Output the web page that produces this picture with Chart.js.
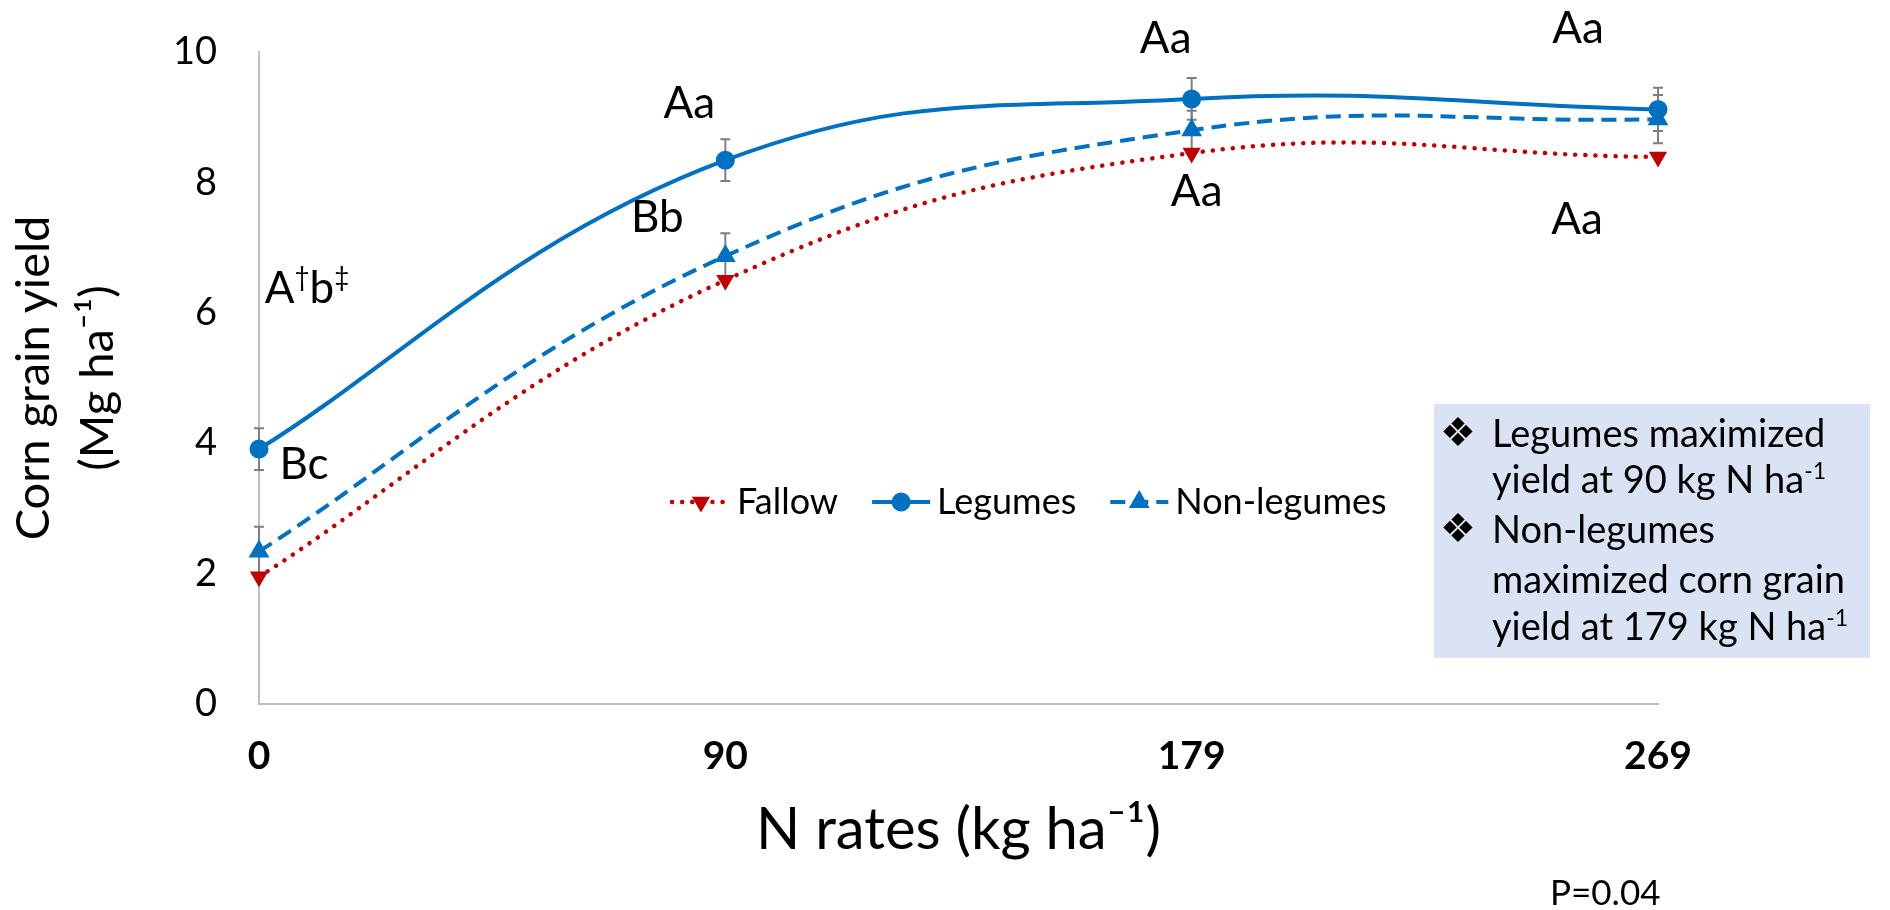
<!DOCTYPE html>
<html>
<head>
<meta charset="utf-8">
<script src="https://cdn.jsdelivr.net/npm/chart.js@4.4.1/dist/chart.umd.min.js"></script>
<style>
  html, body { margin: 0; padding: 0; background: #fff; }
  canvas { display: block; }
</style>
</head>
<body>
<canvas id="chart" width="1890" height="910"></canvas>
<script>
// N rates on the x axis
const nRates = ['0', '90', '179', '269'];

// corn grain yield (Mg/ha)
const fallow = [1.95, 6.50, 8.45, 8.39];
const legumes = [3.91, 8.34, 9.28, 9.12];
const nonLegumes = [2.34, 6.87, 8.80, 8.97];

// error bars (+/-)
const legumesErr = [0.32, 0.32, 0.32, 0.33];
const nonLegumesErr = [0.38, 0.35, 0.30, 0.37];

// mean separation letters
const legumesLetters = ['A†b‡', 'Aa', 'Aa', 'Aa'];
const nonLegumesLetters = ['Bc', 'Bb', 'Aa', 'Aa'];

// y axis ticks
const yTicks = [0, 2, 4, 6, 8, 10];

// text box
const noteLines = [
    { bullet: true, text: 'Legumes maximized' },
    { text: 'yield at 90 kg N ha', sup: '-1' },
    { bullet: true, text: 'Non-legumes' },
    { text: 'maximized corn grain' },
    { text: 'yield at 179 kg N ha', sup: '-1' }
];
const pValue = 'P=0.04';

const FONT = 'Lato, "Open Sans", sans-serif';
Chart.defaults.font.family = FONT;
Chart.defaults.color = '#000';

// splits text so † and ‡ get drawn as superscripts
function richParts(str, sup) {
    const parts = [];
    for (const ch of str) {
        const isSup = ch === '†' || ch === '‡';
        const last = parts[parts.length - 1];
        if (last && last.sup === isSup) last.t += ch;
        else parts.push({ t: ch, sup: isSup });
    }
    if (sup) parts.push({ t: sup, sup: true });
    return parts;
}

function drawRich(ctx, parts, x, y, size, align) {
    const supSize = Math.round(size * 0.6);
    let w = 0;
    parts.forEach(p => {
        ctx.font = (p.sup ? supSize : size) + 'px ' + FONT;
        p.w = ctx.measureText(p.t).width;
        w += p.w;
    });
    let cx = align === 'center' ? x - w / 2 : x;
    ctx.textAlign = 'left';
    ctx.textBaseline = 'alphabetic';
    parts.forEach(p => {
        ctx.font = (p.sup ? supSize : size) + 'px ' + FONT;
        ctx.fillText(p.t, cx, p.sup ? y - size * 0.38 : y);
        cx += p.w;
    });
}

// error bars, plus a straighter start for the smoothed lines (like Excel)
const errorBars = {
    id: 'errorBars',
    beforeDatasetsDraw(chart) {
        chart.data.datasets.forEach((ds, di) => {
            const pts = chart.getDatasetMeta(di).data;
            if (pts.length > 1) {
                pts[0].cp2x = pts[0].x + (pts[1].x - pts[0].x) * 0.3;
                pts[0].cp2y = pts[0].y + (pts[1].y - pts[0].y) * 0.3;
            }
        });

        const ctx = chart.ctx;
        const xs = chart.scales.x, ys = chart.scales.y;
        ctx.save();
        ctx.strokeStyle = '#7f7f7f';
        ctx.lineWidth = 2;
        [[legumes, legumesErr], [nonLegumes, nonLegumesErr]].forEach(([vals, errs]) => {
            vals.forEach((v, i) => {
                const px = xs.getPixelForValue(i);
                const top = ys.getPixelForValue(v + errs[i]);
                const bot = ys.getPixelForValue(v - errs[i]);
                ctx.beginPath();
                ctx.moveTo(px, top); ctx.lineTo(px, bot);
                ctx.moveTo(px - 5, top); ctx.lineTo(px + 5, top);
                ctx.moveTo(px - 5, bot); ctx.lineTo(px + 5, bot);
                ctx.stroke();
            });
        });
        ctx.restore();
    }
};

// letters, legend, text box
const overlay = {
    id: 'overlay',
    afterDraw(chart) {
        const ctx = chart.ctx;
        const xs = chart.scales.x, ys = chart.scales.y;
        ctx.save();
        ctx.fillStyle = '#000';

        // letters, offset from their points
        const legOff = [[48, -162], [-36, -58], [-26, -62], [-80, -82]];
        const nonOff = [[45, -88], [-68, -40], [5, 60], [-81, 99]];
        const put = (letters, vals, offs) => letters.forEach((txt, i) => {
            const px = xs.getPixelForValue(i) + offs[i][0];
            const py = ys.getPixelForValue(vals[i]) + offs[i][1];
            drawRich(ctx, richParts(txt), px, py + 16, 44, 'center');
        });
        put(legumesLetters, legumes, legOff);
        put(nonLegumesLetters, nonLegumes, nonOff);

        // legend
        let lx = 672;
        const ly = 502;
        chart.data.datasets.forEach(ds => {
            ctx.save();
            ctx.strokeStyle = ds.borderColor;
            ctx.lineWidth = ds.borderWidth;
            ctx.lineCap = ds.borderCapStyle || 'butt';
            ctx.setLineDash(ds.borderDash || []);
            ctx.beginPath();
            ctx.moveTo(lx, ly); ctx.lineTo(lx + 58, ly);
            ctx.stroke();
            ctx.setLineDash([]);
            ctx.fillStyle = ds.pointBackgroundColor;
            ctx.strokeStyle = ds.pointBorderColor;
            Chart.helpers.drawPoint(ctx, {
                pointStyle: ds.pointStyle, rotation: ds.pointRotation || 0,
                radius: ds.pointRadius, borderWidth: 1
            }, lx + 29, ly);
            ctx.restore();
            ctx.font = '36px ' + FONT;
            ctx.textBaseline = 'middle';
            ctx.textAlign = 'left';
            ctx.fillText(ds.label, lx + 65, ly);
            lx += 65 + ctx.measureText(ds.label).width + 34;
        });

        // text box
        ctx.fillStyle = '#DAE3F3';
        ctx.fillRect(1434, 404, 436, 254);
        ctx.fillStyle = '#000';
        const baselines = [447, 493, 543, 593, 640];
        noteLines.forEach((ln, i) => {
            if (ln.bullet) {
                ctx.font = '40px "DejaVu Sans"';
                ctx.textAlign = 'left';
                ctx.textBaseline = 'alphabetic';
                ctx.fillText('❖', 1440, baselines[i] - 1);
            }
            drawRich(ctx, [{ t: ln.text, sup: false }].concat(ln.sup ? [{ t: ln.sup, sup: true }] : []),
                1492, baselines[i], 38, 'left');
        });

        // p value
        ctx.font = '35px ' + FONT;
        ctx.textAlign = 'left';
        ctx.textBaseline = 'alphabetic';
        ctx.fillText(pValue, 1550, 905);
        ctx.restore();
    }
};

new Chart(document.getElementById('chart'), {
    type: 'line',
    data: {
        labels: nRates,
        datasets: [
            {
                label: 'Fallow',
                data: fallow,
                borderColor: '#C00000',
                borderWidth: 4.5,
                borderDash: [0.1, 10],
                borderCapStyle: 'round',
                pointStyle: 'triangle',
                pointRotation: 180,
                pointRadius: 6,
                pointBackgroundColor: '#C00000',
                pointBorderColor: '#C00000',
                tension: 0.42,
                clip: false
            },
            {
                label: 'Legumes',
                data: legumes,
                borderColor: '#0070C0',
                borderWidth: 4,
                pointStyle: 'circle',
                pointRadius: 7.5,
                pointBackgroundColor: '#0070C0',
                pointBorderColor: '#0070C0',
                tension: 0.42,
                clip: false
            },
            {
                label: 'Non-legumes',
                data: nonLegumes,
                borderColor: '#0070C0',
                borderWidth: 4,
                borderDash: [15, 8],
                pointStyle: 'triangle',
                pointRadius: 8,
                pointBackgroundColor: '#0070C0',
                pointBorderColor: '#0070C0',
                tension: 0.42,
                clip: false
            }
        ]
    },
    options: {
        responsive: false,
        animation: false,
        devicePixelRatio: 1,
        layout: { padding: { top: 52, right: 232, bottom: 0, left: 0 } },
        plugins: {
            legend: { display: false },
            tooltip: { enabled: false }
        },
        scales: {
            x: {
                type: 'category',
                offset: false,
                grid: { display: false, drawTicks: false },
                border: { display: true, color: '#BFBFBF', width: 2 },
                ticks: { padding: 29, font: { size: 39, weight: 'bold' }, color: '#000' },
                title: {
                    display: true,
                    text: 'N rates (kg ha⁻¹)',
                    font: { size: 58 },
                    padding: { top: 0, bottom: 45 },
                    color: '#000'
                },
                afterFit(scale) { scale.height = 206; }
            },
            y: {
                min: 0,
                max: 10,
                afterBuildTicks(scale) { scale.ticks = yTicks.map(v => ({ value: v })); },
                grid: { display: false, drawTicks: false },
                border: { display: true, color: '#BFBFBF', width: 2 },
                ticks: { padding: 42, font: { size: 38 }, color: '#000' },
                title: {
                    display: true,
                    text: ['Corn grain yield', '(Mg ha⁻¹)'],
                    font: { size: 47, lineHeight: 1.38 },
                    padding: { top: 1, bottom: 0 },
                    color: '#000'
                },
                afterFit(scale) {
                    scale.width = 259;
                    // tick padding should not push the plot area down
                    scale.paddingTop = 20;
                    scale.paddingBottom = 20;
                }
            }
        }
    },
    plugins: [errorBars, overlay]
});
</script>
</body>
</html>
